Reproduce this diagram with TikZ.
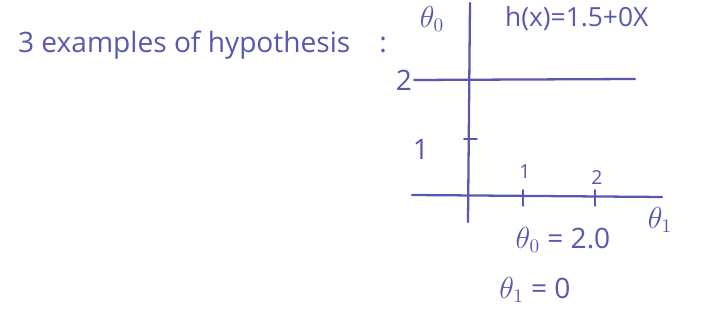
\documentclass[tikz,border=0pt]{standalone}
\usepackage{fontspec}
\setmainfont{Open Sans}
\usetikzlibrary{positioning}
\definecolor{ink}{RGB}{88,88,176}
\tikzset{
  axisline/.style={draw=ink, line width=1.3pt, line cap=round},
  tickmark/.style={draw=ink, line width=1.1pt, line cap=round},
  note/.style={text=ink, inner sep=1pt, font=\fontsize{16}{19}\selectfont},
  smallnote/.style={text=ink, inner sep=1pt, font=\fontsize{11}{13}\selectfont}
}

\begin{document}
\begin{tikzpicture}[x=0.02cm, y=-0.02cm]
  \useasboundingbox (0,0) rectangle (711,327);
  % heading
  \node[note, anchor=west] (title) at (16,45) {3 examples of hypothesis};
  \node[note] (colon) at (383,45) {:};
  \node[note] (thetazero) at (432,19) {$\theta_0$};
  \node[note, anchor=west, font=\fontsize{15}{18}\selectfont] (hyp) at (503,19) {h(x)=1.5+0X};
  % axes
  \coordinate (ytop) at (470,3);
  \coordinate (ybot) at (468,222);
  \coordinate (xleft) at (412,195);
  \coordinate (xright) at (662,197);
  \draw[axisline] (ytop) -- (ybot);
  \draw[axisline] (xleft) -- (xright);
  \node[note] (thetaone) at (660,220) {$\theta_1$};
  % y tick
  \node[note] (yone) at (421,149) {1};
  \draw[tickmark] (464,139) -- (477,139);
  % x ticks
  \foreach \xv/\lbl/\ly in {523/1/172, 595/2/178}{
    \draw[tickmark] (\xv,190) -- (\xv,206);
    \node[smallnote] at (\xv+2,\ly) {\lbl};
  }
  % hypothesis line
  \node[note] (ytwo) at (404,80) {2};
  \coordinate (hend) at (635,79);
  \draw[axisline] (ytwo.east) -- (hend);
  % parameters
  \node[note] (pzero) at (563,240) {$\theta_0$ = 2.0};
  \node[note] (pone) at (535,290) {$\theta_1$ = 0};
\end{tikzpicture}
\end{document}
